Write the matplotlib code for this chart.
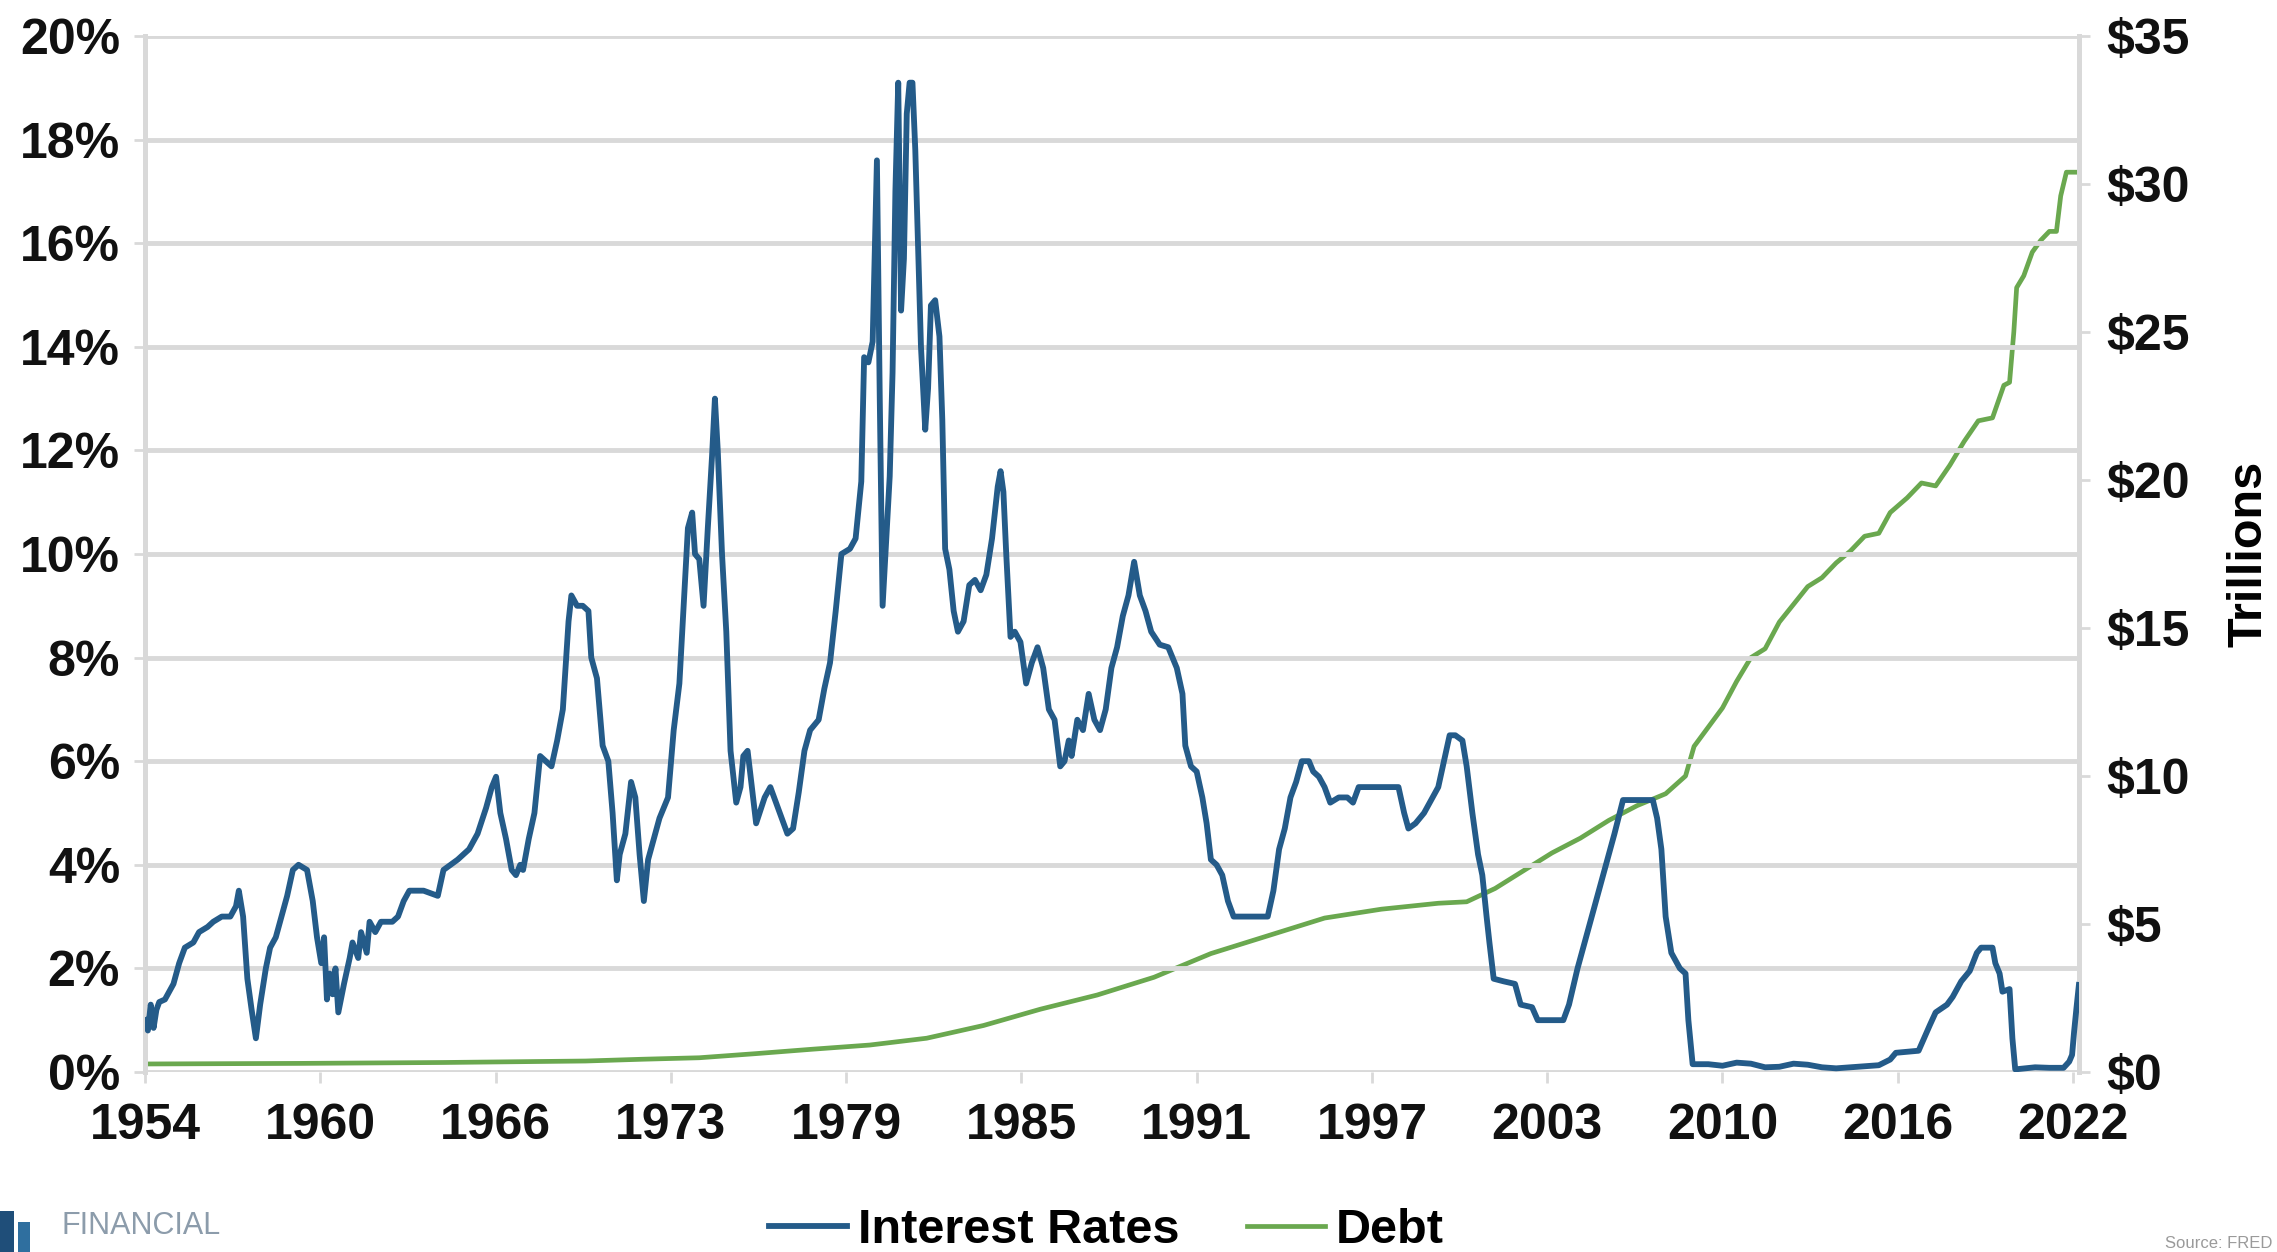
import matplotlib.pyplot as plt
import numpy as np
from matplotlib.ticker import FuncFormatter, MultipleLocator
from matplotlib.patches import Rectangle

# Effective federal funds rate (%), by decimal year
rate_year = [
    1954.5, 1954.6, 1954.7, 1954.8, 1954.9, 1955.0, 1955.2, 1955.4, 1955.5, 1955.7,
    1955.9, 1956.2, 1956.4, 1956.7, 1956.9, 1957.2, 1957.5, 1957.7, 1957.8, 1957.95,
    1958.1, 1958.25, 1958.4, 1958.55, 1958.75, 1958.9, 1959.1, 1959.3, 1959.5, 1959.7,
    1959.9, 1960.2, 1960.4, 1960.55, 1960.7, 1960.8, 1960.9, 1961.0, 1961.1, 1961.2,
    1961.3, 1961.5, 1961.7, 1961.8, 1962.0, 1962.1, 1962.3, 1962.4, 1962.6, 1962.8,
    1963.2, 1963.4, 1963.6, 1963.8, 1964.3, 1964.8, 1965.0, 1965.5, 1965.9, 1966.2,
    1966.5, 1966.7, 1966.85, 1967.0, 1967.2, 1967.4, 1967.55, 1967.7, 1967.8, 1968.0,
    1968.2, 1968.4, 1968.6, 1968.8, 1969.0, 1969.2, 1969.4, 1969.5, 1969.7, 1969.9,
    1970.1, 1970.2, 1970.4, 1970.6, 1970.8, 1970.95, 1971.1, 1971.2, 1971.4, 1971.6,
    1971.75, 1971.9, 1972.05, 1972.2, 1972.4, 1972.6, 1972.9, 1973.1, 1973.3, 1973.5,
    1973.6, 1973.75, 1973.85, 1974.0, 1974.15, 1974.3, 1974.45, 1974.55, 1974.65, 1974.8,
    1974.95, 1975.1, 1975.3, 1975.45, 1975.55, 1975.7, 1975.85, 1976.0, 1976.3, 1976.5,
    1976.7, 1976.9, 1977.1, 1977.3, 1977.5, 1977.7, 1977.9, 1978.2, 1978.4, 1978.6,
    1978.8, 1979.0, 1979.3, 1979.5, 1979.7, 1979.8, 1979.95, 1980.1, 1980.25, 1980.35,
    1980.45, 1980.55, 1980.7, 1980.8, 1980.9, 1981.0, 1981.1, 1981.2, 1981.3, 1981.4,
    1981.5, 1981.6, 1981.7, 1981.8, 1981.95, 1982.05, 1982.15, 1982.3, 1982.45, 1982.55,
    1982.65, 1982.8, 1982.95, 1983.1, 1983.3, 1983.5, 1983.7, 1983.9, 1984.1, 1984.3,
    1984.5, 1984.6, 1984.7, 1984.8, 1984.95, 1985.1, 1985.3, 1985.5, 1985.7, 1985.9,
    1986.1, 1986.3, 1986.5, 1986.7, 1986.85, 1987.0, 1987.1, 1987.3, 1987.5, 1987.7,
    1987.9, 1988.1, 1988.3, 1988.5, 1988.7, 1988.9, 1989.1, 1989.3, 1989.5, 1989.7,
    1989.9, 1990.2, 1990.5, 1990.8, 1991.0, 1991.1, 1991.3, 1991.5, 1991.7, 1991.85,
    1992.0, 1992.2, 1992.4, 1992.6, 1992.8, 1993.2, 1993.6, 1994.0, 1994.2, 1994.4,
    1994.6, 1994.8, 1995.0, 1995.2, 1995.45, 1995.6, 1995.8, 1996.0, 1996.2, 1996.5,
    1996.8, 1997.0, 1997.2, 1997.6, 1998.0, 1998.4, 1998.6, 1998.8, 1998.95, 1999.2,
    1999.5, 1999.8, 2000.0, 2000.2, 2000.4, 2000.6, 2000.85, 2001.0, 2001.2, 2001.4,
    2001.55, 2001.7, 2001.8, 2001.95, 2002.3, 2002.7, 2002.9, 2003.3, 2003.5, 2004.0,
    2004.4, 2004.6, 2004.9, 2005.3, 2005.6, 2005.9, 2006.2, 2006.5, 2007.0, 2007.55,
    2007.7, 2007.85, 2008.0, 2008.2, 2008.5, 2008.7, 2008.8, 2008.95, 2009.5, 2010.0,
    2010.5, 2011.0, 2011.5, 2012.0, 2012.5, 2013.0, 2013.5, 2014.0, 2014.5, 2015.0,
    2015.5, 2015.9, 2016.1, 2016.5, 2016.9, 2017.1, 2017.3, 2017.5, 2017.9, 2018.1,
    2018.4, 2018.7, 2018.95, 2019.1, 2019.5, 2019.6, 2019.75, 2019.85, 2020.1, 2020.2,
    2020.3, 2021.0, 2021.5, 2022.0, 2022.2, 2022.3, 2022.37, 2022.45, 2022.54,
]
rate_pct = [
    1.0, 0.8, 1.3, 0.85, 1.2, 1.35, 1.4, 1.6, 1.7, 2.1,
    2.4, 2.5, 2.7, 2.8, 2.9, 3.0, 3.0, 3.2, 3.5, 3.0,
    1.8, 1.2, 0.65, 1.3, 2.0, 2.4, 2.6, 3.0, 3.4, 3.9,
    4.0, 3.9, 3.3, 2.6, 2.1, 2.6, 1.4, 1.9, 1.5, 2.0,
    1.15, 1.7, 2.2, 2.5, 2.2, 2.7, 2.3, 2.9, 2.7, 2.9,
    2.9, 3.0, 3.3, 3.5, 3.5, 3.4, 3.9, 4.1, 4.3, 4.6,
    5.1, 5.5, 5.7, 5.0, 4.5, 3.9, 3.8, 4.0, 3.9, 4.5,
    5.0, 6.1, 6.0, 5.9, 6.4, 7.0, 8.7, 9.2, 9.0, 9.0,
    8.9, 8.0, 7.6, 6.3, 6.0, 5.0, 3.7, 4.2, 4.6, 5.6,
    5.3, 4.2, 3.3, 4.1, 4.5, 4.9, 5.3, 6.6, 7.5, 9.5,
    10.5, 10.8, 10.0, 9.9, 9.0, 10.5, 11.9, 13.0, 12.0, 10.0,
    8.5, 6.2, 5.2, 5.5, 6.1, 6.2, 5.5, 4.8, 5.3, 5.5,
    5.2, 4.9, 4.6, 4.7, 5.4, 6.2, 6.6, 6.8, 7.4, 7.9,
    8.9, 10.0, 10.1, 10.3, 11.4, 13.8, 13.7, 14.1, 17.6, 13.0,
    9.0, 10.0, 11.5, 13.5, 17.0, 19.1, 14.7, 15.7, 18.5, 19.1,
    19.1, 17.8, 15.9, 14.0, 12.4, 13.2, 14.8, 14.9, 14.2, 12.6,
    10.1, 9.7, 8.9, 8.5, 8.7, 9.4, 9.5, 9.3, 9.6, 10.3,
    11.3, 11.6, 11.2, 10.0, 8.4, 8.5, 8.3, 7.5, 7.9, 8.2,
    7.8, 7.0, 6.8, 5.9, 6.0, 6.4, 6.1, 6.8, 6.6, 7.3,
    6.8, 6.6, 7.0, 7.8, 8.2, 8.8, 9.2, 9.85, 9.2, 8.9,
    8.5, 8.25, 8.2, 7.8, 7.3, 6.3, 5.9, 5.8, 5.3, 4.8,
    4.1, 4.0, 3.8, 3.3, 3.0, 3.0, 3.0, 3.0, 3.5, 4.3,
    4.7, 5.3, 5.6, 6.0, 6.0, 5.8, 5.7, 5.5, 5.2, 5.3,
    5.3, 5.2, 5.5, 5.5, 5.5, 5.5, 5.5, 5.0, 4.7, 4.8,
    5.0, 5.3, 5.5, 6.0, 6.5, 6.5, 6.4, 5.9, 5.0, 4.2,
    3.8, 3.0, 2.5, 1.8, 1.75, 1.7, 1.3, 1.25, 1.0, 1.0,
    1.0, 1.3, 2.0, 2.8, 3.4, 4.0, 4.6, 5.25, 5.25, 5.25,
    4.9, 4.3, 3.0, 2.3, 2.0, 1.9, 1.0, 0.15, 0.15, 0.12,
    0.18, 0.16, 0.09, 0.1, 0.16, 0.14, 0.09, 0.07, 0.09, 0.11,
    0.13, 0.24, 0.37, 0.39, 0.41, 0.66, 0.91, 1.15, 1.3, 1.45,
    1.75, 1.95, 2.3, 2.4, 2.4, 2.1, 1.9, 1.55, 1.6, 0.65,
    0.05, 0.09, 0.08, 0.08, 0.2, 0.33, 0.77, 1.21, 1.68,
]

# Total public debt ($ trillions), by decimal year
debt_year = [
    1954.5, 1960.0, 1965.0, 1970.0, 1972.0, 1974.0, 1976.0, 1978.0, 1980.0, 1982.0,
    1984.0, 1986.0, 1988.0, 1990.0, 1992.0, 1994.0, 1996.0, 1998.0, 2000.0, 2001.0,
    2002.0, 2003.0, 2004.0, 2005.0, 2006.0, 2007.0, 2008.0, 2008.7, 2009.0, 2010.0,
    2010.5, 2011.0, 2011.5, 2012.0, 2012.5, 2013.0, 2013.5, 2014.0, 2014.5, 2015.0,
    2015.5, 2015.9, 2016.5, 2017.0, 2017.5, 2018.0, 2018.5, 2019.0, 2019.5, 2019.9,
    2020.1, 2020.25, 2020.35, 2020.6, 2020.9, 2021.2, 2021.5, 2021.75, 2021.9, 2022.1,
    2022.54,
]
debt_tn = [
    0.27, 0.29, 0.32, 0.37, 0.43, 0.48, 0.62, 0.77, 0.91, 1.14,
    1.57, 2.12, 2.6, 3.2, 4.0, 4.6, 5.2, 5.5, 5.7, 5.75,
    6.2, 6.8, 7.4, 7.9, 8.5, 9.0, 9.4, 10.0, 11.0, 12.3,
    13.2, 14.0, 14.3, 15.2, 15.8, 16.4, 16.7, 17.2, 17.6, 18.1,
    18.2, 18.9, 19.4, 19.9, 19.8, 20.5, 21.3, 22.0, 22.1, 23.2,
    23.3, 25.0, 26.5, 26.9, 27.7, 28.1, 28.4, 28.4, 29.6, 30.4,
    30.4,
]

# Category axis labels, one every 74 months starting July 1954
year_labels = ['1954', '1960', '1966', '1973', '1979', '1985',
               '1991', '1997', '2003', '2010', '2016', '2022']
label_step = 74 / 12

BLUE = '#245b89'
GREEN = '#6aa84f'
GRID = '#d9d9d9'

plt.rcParams['font.family'] = ['Liberation Sans', 'DejaVu Sans']
plt.rcParams['font.weight'] = 'bold'

fig = plt.figure(figsize=(22.77, 12.52), dpi=100)
ax = fig.add_axes([0.0637, 0.1438, 0.913 - 0.0637, 0.9712 - 0.1438])
ax2 = ax.twinx()

ln1, = ax.plot(rate_year, rate_pct, color=BLUE, lw=4.2, solid_joinstyle='round',
               label='Interest Rates', zorder=3)
ln2, = ax2.plot(debt_year, debt_tn, color=GREEN, lw=3.4, solid_joinstyle='round',
                label='Debt', zorder=2)

x0 = rate_year[0]
ax.set_xlim(x0, rate_year[-1])
ax.set_xticks(x0 + np.arange(len(year_labels)) * label_step)
ax.set_xticklabels(year_labels)

ax.set_ylim(0, 20)
ax.yaxis.set_major_locator(MultipleLocator(2))
ax.yaxis.set_major_formatter(FuncFormatter(lambda v, p: f'{v:.0f}%'))
ax2.set_ylim(0, 35)
ax2.yaxis.set_major_locator(MultipleLocator(5))
ax2.yaxis.set_major_formatter(FuncFormatter(lambda v, p: f'${v:.0f}'))
ax2.set_ylabel('Trillions', fontsize=35, fontweight='bold', labelpad=26)

ax.grid(axis='y', color=GRID, lw=3.5)
ax.set_axisbelow(True)
for a in (ax, ax2):
    for s in ('top', 'bottom'):
        a.spines[s].set_visible(False)
    for s in ('left', 'right'):
        a.spines[s].set_color(GRID)
        a.spines[s].set_linewidth(3.5)
    a.tick_params(colors=GRID, length=8, width=2, labelsize=36, labelcolor='#111111')
ax.tick_params(axis='x', pad=14)
ax.tick_params(axis='y', pad=10)
ax2.tick_params(axis='y', pad=12)
ax.set_zorder(ax2.get_zorder() + 1)
ax.patch.set_visible(False)

fig.legend(handles=[ln1, ln2], loc='center', bbox_to_anchor=(0.486, 0.017),
           ncol=2, frameon=False, fontsize=35, handlelength=1.6,
           handletextpad=0.22, columnspacing=1.4)

# Footer branding and source
fig.add_artist(Rectangle((0.0, 0.0), 0.006, 0.033, transform=fig.transFigure,
                         color='#1f4e79', lw=0))
fig.add_artist(Rectangle((0.008, 0.0), 0.005, 0.024, transform=fig.transFigure,
                         color='#2f6f9f', lw=0))
fig.text(0.027, 0.009, 'FINANCIAL', fontsize=22, fontweight='normal',
         color='#8c9cab', va='bottom')
fig.text(0.998, 0.001, 'Source: FRED', fontsize=12, fontweight='normal',
         color='#9a9a9a', ha='right', va='bottom')

fig.savefig('out.png', dpi=100)
